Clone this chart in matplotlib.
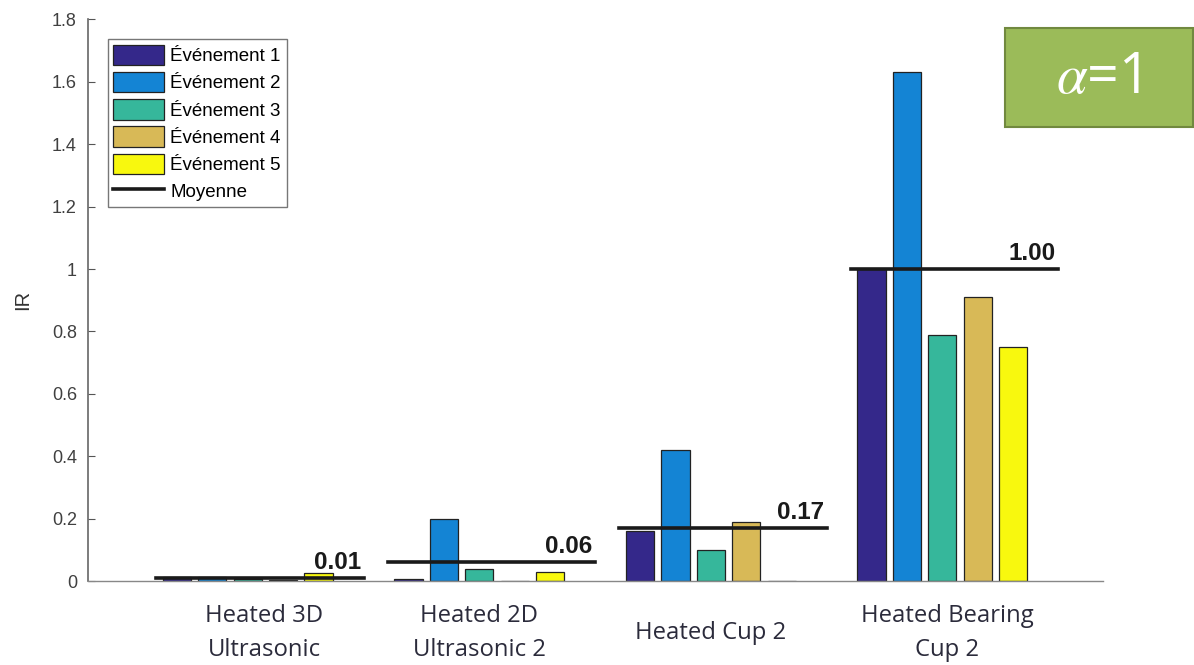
import matplotlib.pyplot as plt
import matplotlib.patches as mpatches
from matplotlib.lines import Line2D
from matplotlib.transforms import blended_transform_factory
import numpy as np

plt.rcParams['font.family'] = ['Liberation Sans', 'DejaVu Sans']
plt.rcParams['mathtext.fontset'] = 'stix'

groups = ["Heated 3D\nUltrasonic", "Heated 2D\nUltrasonic 2", "Heated Cup 2", "Heated Bearing\nCup 2"]
event_names = ["Événement 1", "Événement 2", "Événement 3", "Événement 4", "Événement 5"]
ev1 = [0.012, 0.008, 0.16, 1.00]
ev2 = [0.013, 0.20, 0.42, 1.63]
ev3 = [0.008, 0.04, 0.10, 0.79]
ev4 = [0.004, 0.0, 0.19, 0.91]
ev5 = [0.027, 0.03, 0.0, 0.75]
means = [0.01, 0.06, 0.17, 1.00]
yticks = [0, 0.2, 0.4, 0.6, 0.8, 1, 1.2, 1.4, 1.6, 1.8]

colors = ['#34288a', '#1484d4', '#36b79b', '#d8b957', '#f8f80e']

fig = plt.figure(figsize=(11.94, 6.65), dpi=100)
ax = fig.add_axes([0.0737, 0.126, 0.8503, 0.845])

x = np.arange(1, len(groups) + 1)
step = 0.153
width = 0.122
for i, vals in enumerate([ev1, ev2, ev3, ev4, ev5]):
    ax.bar(x + (i - 2) * step, vals, width, color=colors[i],
           edgecolor='#222222', linewidth=0.9, label=event_names[i], zorder=2)

# mean line per group with its value
for xi, m in zip(x, means):
    ax.plot([xi - 0.395, xi + 0.50], [m, m], color='#1a1a1a', lw=2.6, zorder=3)
    ax.text(xi + 0.49, m + 0.014, f"{m:.2f}", ha='right', va='bottom',
            fontsize=17.5, fontweight='bold', color='#1a1a1a', zorder=4)

ax.set_xlim(0.31, 4.695)
ax.set_ylim(0, 1.8)
ax.set_yticks(yticks)
ax.set_yticklabels([f"{v:g}" for v in yticks])
ax.tick_params(axis='y', direction='in', length=5, labelsize=13,
               colors='#555555', labelcolor='#404040', pad=8)
ax.tick_params(axis='x', length=0, labelbottom=False)
ax.set_ylabel("IR", fontsize=14.5, color='#333333', labelpad=14)
for s in ['top', 'right']:
    ax.spines[s].set_visible(False)
ax.spines['left'].set_color('#666666')
ax.spines['bottom'].set_color('#888888')
ax.spines['left'].set_linewidth(1.2)
ax.spines['bottom'].set_linewidth(1.0)

# group names below the axis
trans = blended_transform_factory(ax.transData, ax.transAxes)
label_x = [1.07, 2.0, 3.0, 4.02]
for lx, g in zip(label_x, groups):
    ax.text(lx, -0.092, g, transform=trans, ha='center', va='center',
            fontsize=17.2, family='Open Sans', color='#2b2b3b', linespacing=1.6)

handles = [mpatches.Patch(facecolor=c, edgecolor='#222222', linewidth=0.9) for c in colors]
handles.append(Line2D([0], [0], color='#1a1a1a', lw=2.6))
leg = ax.legend(handles, event_names + ["Moyenne"], loc='upper left', fontsize=13.5,
                handlelength=2.7, handleheight=1.3, handletextpad=0.35,
                labelspacing=0.36, borderpad=0.3, borderaxespad=1.05,
                fancybox=False, framealpha=1, edgecolor='#777777')
leg.get_frame().set_linewidth(1.0)

# alpha tag in the corner
box = mpatches.Rectangle((0.842, 0.809), 0.157, 0.149, transform=fig.transFigure,
                         facecolor='#9bbb59', edgecolor='#71893f', linewidth=1.5)
fig.patches.append(box)
fig.text(0.9196, 0.882, r'$\alpha$=1', ha='center', va='center', fontsize=40,
         color='white', family='Open Sans')

fig.savefig('out.png', dpi=100)
